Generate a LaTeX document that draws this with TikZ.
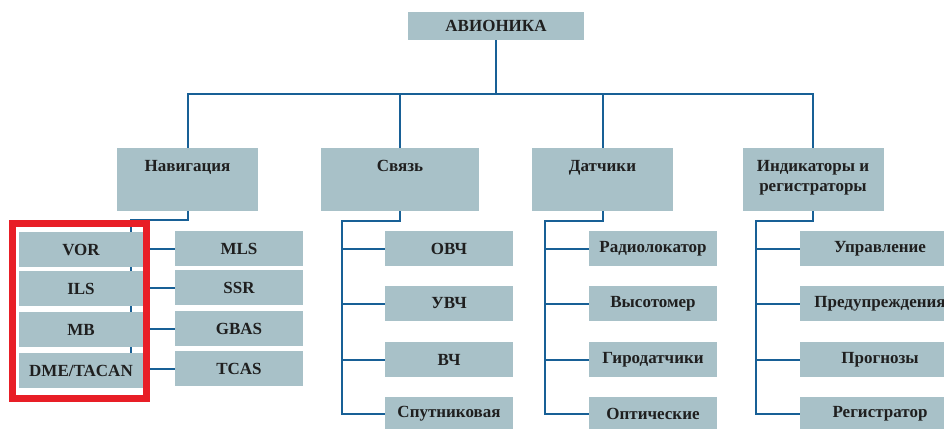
\documentclass[tikz,border=0pt]{standalone}
\usepackage{fontspec}
\setmainfont{Liberation Serif}
\definecolor{boxc}{RGB}{168,193,200}
\definecolor{linec}{RGB}{24,96,150}
\definecolor{redc}{RGB}{232,30,38}
\begin{document}
\begin{tikzpicture}[x=1pt,y=-1pt,
  base/.style={fill=boxc,inner sep=0pt,font=\fontsize{17}{20}\selectfont\bfseries,text=black!88},
  leaf/.style={base,minimum width=128pt,minimum height=35pt},
  leafw/.style={base,minimum width=160pt,minimum height=35pt},
  nleaf/.style={base,minimum width=124pt,minimum height=35pt},
  cat/.style={base,minimum width=141pt,minimum height=63pt},
  lbl/.style={inner sep=0pt,font=\fontsize{17}{20}\selectfont\bfseries,text=black!88,align=center,anchor=north},
  conn/.style={draw=linec,line width=2pt}]
\clip (0,0) rectangle (944,428);
% top
\node[base,minimum width=176pt,minimum height=28pt] (av) at (496,26) {АВИОНИКА};
% categories
\node[cat] (nav) at (187.5,179.5) {};
\node[cat,minimum width=158pt] (com) at (400,179.5) {};
\node[cat] (sen) at (602.5,179.5) {};
\node[cat] (ind) at (813,179.5) {};
\node[lbl] (navT) at ([yshift=-12pt]nav.north) {Навигация};
\node[lbl] (comT) at ([yshift=-12pt]com.north) {Связь};
\node[lbl] (senT) at ([yshift=-12pt]sen.north) {Датчики};
\node[lbl] (indT) at ([yshift=-12pt]ind.north) {Индикаторы и\\регистраторы};
% top connectors
\coordinate (bus) at (496,94);
\draw[conn] (av.south) -- (bus);
\draw[conn] (nav.north) |- (bus) -| (ind.north);
\draw[conn] (com.north) -- (com.north |- bus);
\draw[conn] (sen.north) -- (sen.north |- bus);
% navigation children
\coordinate (navJ) at (131,220);
\coordinate (navE) at (131,369);
\draw[conn] (nav.south) |- (navJ) -- (navE);
\node[leaf] (mls) at (239,248.5) {MLS};
\node[leaf] (ssr) at (239,287.5) {SSR};
\node[leaf] (gbas) at (239,328.5) {GBAS};
\node[leaf] (tcas) at (239,368.5) {TCAS};
\foreach \n in {mls,ssr,gbas,tcas} \draw[conn] (\n.west) -- (\n.west -| navJ);
\node[nleaf] (vor) at (81,249.5) {VOR};
\node[nleaf] (ils) at (81,288.5) {ILS};
\node[nleaf] (mb) at (81,329.5) {MB};
\node[nleaf] (dme) at (81,370.5) {DME/TACAN};
\draw[draw=redc,line width=7pt] (12.5,223.5) rectangle (146.5,398.5);
% communication
\node[leaf] (ovch) at (449,248.5) {ОВЧ};
\node[leaf] (uvch) at (449,303.5) {УВЧ};
\node[leaf] (vch) at (449,359.5) {ВЧ};
\node[leaf] (sput) at (449,414) {Спутниковая};
\coordinate (comJ) at (342,221);
\draw[conn] (com.south) |- (comJ) |- (sput.west);
\foreach \n in {ovch,uvch,vch} \draw[conn] (\n.west) -- (\n.west -| comJ);
% sensors
\node[leaf] (radl) at (653,248.5) {Радиолокатор};
\node[leaf] (vys) at (653,303.5) {Высотомер};
\node[leaf] (gyro) at (653,359.5) {Гиродатчики};
\node[leaf] (opt) at (653,414) {Оптические};
\coordinate (senJ) at (545,221);
\draw[conn] (sen.south) |- (senJ) |- (opt.west);
\foreach \n in {radl,vys,gyro} \draw[conn] (\n.west) -- (\n.west -| senJ);
% indicators
\node[leafw] (upr) at (880,248.5) {Управление};
\node[leafw] (pred) at (880,303.5) {Предупреждения};
\node[leafw] (progn) at (880,359.5) {Прогнозы};
\node[leafw] (reg) at (880,414) {Регистратор};
\coordinate (indJ) at (756,221);
\draw[conn] (ind.south) |- (indJ) |- (reg.west);
\foreach \n in {upr,pred,progn} \draw[conn] (\n.west) -- (\n.west -| indJ);
\end{tikzpicture}
\end{document}
